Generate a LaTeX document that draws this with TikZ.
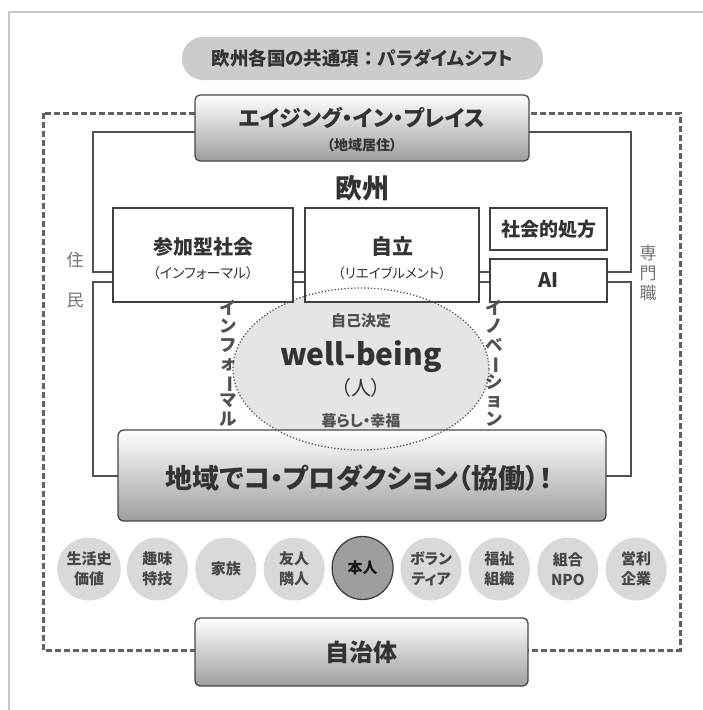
\documentclass[tikz,border=0pt]{standalone}
\usepackage{fontspec}
\setmainfont{Noto Sans CJK JP}[RawFeature=+palt]
\newfontfamily\fullw{Noto Sans CJK JP}
\usetikzlibrary{shapes.geometric}
\definecolor{ink}{HTML}{333333}
\definecolor{mid}{HTML}{505050}
\newcommand\vlong{\rotatebox[origin=c]{-90}{ー}}
\tikzset{
  gbox/.style={draw=black!72, line width=1.3pt, rounded corners=5pt, top color=white, bottom color=black!38, inner sep=0pt},
  wbox/.style={draw=black!75, line width=1.2pt, fill=white, inner sep=0pt},
  txt/.style={inner sep=0pt, text=ink, align=center},
  circ/.style={ellipse, fill=black!15, minimum width=61pt, minimum height=63pt, inner sep=0pt, align=center, text=black!72,
     font=\fontsize{15}{20}\selectfont\bfseries},
  frameline/.style={draw=black!68, line width=1.3pt},
  dashline/.style={draw=black!62, line width=3pt, dash pattern=on 6pt off 3pt},
  vtxt/.style={inner sep=0pt, align=center, text=mid, font=\fontsize{17.5}{18.5}\selectfont\bfseries},
  side/.style={inner sep=0pt, align=center, text=black!55, font=\fontsize{17}{20}\selectfont},
}
\begin{document}
\begin{tikzpicture}[x=1pt,y=-1pt]
\useasboundingbox (0,0) rectangle (703,710);
% page frame
\draw[black!22, line width=2.5pt] (9,710) -- (9,12) -- (703,12);
% top pill
\node[fill=black!20, rounded corners=21pt, minimum width=361pt, minimum height=43pt, inner sep=0pt] (pill) at (362.5,58.5) {};
\node[txt, text=black!80, font=\fontsize{18.5}{20}\selectfont\bfseries] (pillt) at (362.5,58.5) {欧州各国の共通項{\fullw\bfseries ：}パラダイムシフト};
% dashed frame
\draw[dashline] (43,113) rectangle (680,650);
% inner frames
\draw[frameline] (93,132) rectangle (631,272);
\draw[frameline] (93,282) rectangle (631,476);
% ellipse fill
\node[ellipse, fill=black!10, minimum width=256pt, minimum height=162pt, inner sep=0pt] (wb) at (361,369) {};
% boxes
\node[wbox, minimum width=180pt, minimum height=94pt] (sanka) at (203,255) {};
\node[txt, font=\fontsize{20}{22}\selectfont\bfseries] (sankat) at (203,247) {参加型社会};
\node[txt, font=\fontsize{14}{16}\selectfont] (sankas) at (203,273) {（インフォーマル）};
\node[wbox, minimum width=174pt, minimum height=94pt] (jiritsu) at (392,255) {};
\node[txt, font=\fontsize{21}{23}\selectfont\bfseries] (jiritsut) at (392,246) {自立};
\node[txt, font=\fontsize{13.5}{16}\selectfont] (jiritsus) at (392,273) {（リエイブルメント）};
\node[wbox, minimum width=117pt, minimum height=42pt, font=\fontsize{19}{21}\selectfont\bfseries, text=ink] (shakai) at (548.5,229) {社会的処方};
\node[wbox, minimum width=117pt, minimum height=43pt, font=\fontsize{20}{22}\selectfont\bfseries, text=ink] (ai) at (548.5,280.5) {AI};
% aging in place
\node[gbox, minimum width=334pt, minimum height=66pt] (aip) at (362,128) {};
\node[txt, font=\fontsize{22}{24}\selectfont\bfseries] (aipt) at (362,118) {エイジング・イン・プレイス};
\node[txt, font=\fontsize{14}{16}\selectfont\bfseries] (aips) at (362,145) {（地域居住）};
\node[txt, font=\fontsize{27}{30}\selectfont\bfseries] (euro) at (362,188) {欧州};
% co-production
\node[gbox, rounded corners=6pt, minimum width=488pt, minimum height=91pt] (coprod) at (362,475.5) {};
\node[txt, font=\fontsize{27}{30}\selectfont\bfseries] (coprodt) at (359,478) {地域でコ・プロダクション（協働）！};
% ellipse outline
\node[ellipse, draw=black!65, line width=1.3pt, dotted, minimum width=256pt, minimum height=162pt, inner sep=0pt] (wbo) at (wb.center) {};
\node[txt, text=mid, font=\fontsize{15}{17}\selectfont\bfseries] (jiko) at (361,321) {自己決定};
\node[txt, font=\fontsize{30}{34}\selectfont\bfseries] (wbt) at (361,357) {well-being};
\node[txt, font=\fontsize{20}{22}\selectfont] (hito) at (361,388) {（人）};
\node[txt, text=mid, font=\fontsize{15}{17}\selectfont\bfseries] (kurashi) at (361,421) {暮らし・幸福};
% vertical labels
\node[vtxt] (inf) at (228,363) {イ\\ン\\フ\\ォ\\\vlong\\マ\\ル};
\node[vtxt] (inno) at (494,363) {イ\\ノ\\ベ\\\vlong\\シ\\ョ\\ン};
\node[side] (ju) at (75,260) {住};
\node[side] (min) at (75,300) {民};
\node[side, font=\fontsize{17}{20}\selectfont] (senmon) at (648,273) {専\\門\\職};
% circles
\node[circ] (c1) at (89,569) {生活史\\価値};
\node[circ] (c2) at (157.4,569) {趣味\\特技};
\node[circ] (c3) at (225.8,569) {家族};
\node[circ] (c4) at (294.2,569) {友人\\隣人};
\node[circ, fill=black!38, draw=black!75, line width=1.3pt, text=black!90] (c5) at (362.6,568) {本人};
\node[circ] (c6) at (431,569) {ボラン\\ティア};
\node[circ] (c7) at (499.4,569) {福祉\\組織};
\node[circ] (c8) at (567.8,569) {組合\\NPO};
\node[circ] (c9) at (636.2,569) {営利\\企業};
% municipality
\node[gbox, minimum width=333pt, minimum height=68pt] (jichi) at (361.5,652) {};
\node[txt, font=\fontsize{24}{26}\selectfont\bfseries] (jichit) at (361.5,652) {自治体};
\end{tikzpicture}
\end{document}
